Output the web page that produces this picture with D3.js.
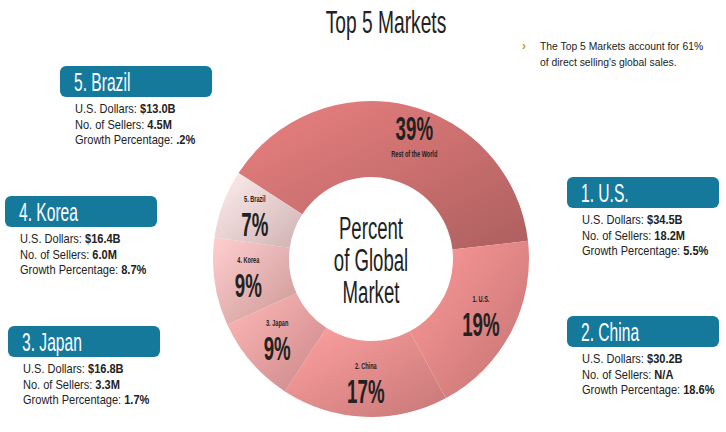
<!DOCTYPE html><html><head><meta charset="utf-8"><script src="https://cdn.jsdelivr.net/npm/d3@7"></script>
<style>body{margin:0;background:#fff}text{font-family:"Liberation Sans",sans-serif}</style></head><body>
<svg id="c" width="726" height="432"></svg>
<script>
const segments=["Rest of the World","1. U.S.","2. China","3. Japan","4. Korea","5. Brazil"];
const shares=[39,19,17,9,9,7];
const colors=["#cf7272","#e88888","#ee8e8e","#f2a2a2","#f4b6b6","#f8d3d3"];
const markets=["1. U.S.","2. China","3. Japan","4. Korea","5. Brazil"];
const dollars=["$34.5B","$30.2B","$16.8B","$16.4B","$13.0B"];
const sellers=["18.2M","N/A","3.3M","6.0M","4.5M"];
const growth=["5.5%","18.6%","1.7%","8.7%",".2%"];
const boxX=[567,567,8,5,60], boxY=[177,316,326,196,66];

const svg=d3.select("#c");
const defs=svg.append("defs");
function txt(parent,x,y,s,size,opts={}){
 return parent.append("text").attr("transform",`translate(${x},${y}) scale(${opts.sx||0.62},1)`)
  .attr("font-size",size).attr("fill",opts.fill||"#222").attr("text-anchor",opts.anchor||"start")
  .attr("font-weight",opts.bold?"bold":null).text(s);
}
txt(svg,386,33,"Top 5 Markets",32,{anchor:"middle",sx:0.6});
svg.append("text").attr("x",522).attr("y",50).attr("fill","#c9962a").attr("font-size",12).attr("font-weight","bold").text("›");
txt(svg,540,50,"The Top 5 Markets account for 61%",11.5,{sx:0.9});
txt(svg,540,66,"of direct selling's global sales.",11.5,{sx:0.9});

const cx=371,cy=259,R=158,r=82;
const pie=d3.pie().sort(null).startAngle(-57*Math.PI/180).endAngle(303*Math.PI/180);
const arcs=pie(shares);
const arc=d3.arc().innerRadius(r).outerRadius(R);
const g=svg.append("g").attr("transform",`translate(${cx},${cy})`);
colors.forEach((c,i)=>{
 const gr=defs.append("linearGradient").attr("id","g"+i).attr("x1","0").attr("y1","0").attr("x2","1").attr("y2","1");
 gr.append("stop").attr("offset","0").attr("stop-color",d3.color(c).brighter(0.35));
 gr.append("stop").attr("offset","1").attr("stop-color",d3.color(c).darker(0.5));
});
g.selectAll("path").data(arcs).join("path").attr("d",arc).attr("fill",(d,i)=>`url(#g${i})`);
const lab=d3.arc().innerRadius((r+R)/2+4).outerRadius((r+R)/2+4);
arcs.forEach((d,i)=>{
 const [x,y]=lab.centroid(d);
 if(i===0){
  txt(g,x+15,y+2,shares[i]+"%",34,{anchor:"middle",sx:0.55,bold:true});
  txt(g,x+15,y+19,segments[i],9,{anchor:"middle",bold:true,sx:0.62});
 } else {
  txt(g,x,y-14,segments[i],9,{anchor:"middle",bold:true,sx:0.62});
  txt(g,x,y+20,shares[i]+"%",34,{anchor:"middle",sx:0.55,bold:true});
 }
});
["Percent","of Global","Market"].forEach((s,i)=>txt(g,0,-20+i*32,s,31,{anchor:"middle",sx:0.6}));

markets.forEach((m,i)=>{
 const x=boxX[i],y=boxY[i];
 svg.append("rect").attr("x",x).attr("y",y).attr("width",152).attr("height",31).attr("rx",6).attr("fill","#15799c");
 txt(svg,x+14,y+25,m,26,{fill:"#fff",sx:0.6});
 [["U.S. Dollars: ",dollars[i]],["No. of Sellers: ",sellers[i]],["Growth Percentage: ",growth[i]]].forEach((p,j)=>{
  const t=svg.append("text").attr("transform",`translate(${x+15},${y+47+j*15.5}) scale(0.85,1)`).attr("font-size",13).attr("fill","#222");
  t.append("tspan").text(p[0]); t.append("tspan").attr("font-weight","bold").text(p[1]);
 });
});
</script></body></html>
